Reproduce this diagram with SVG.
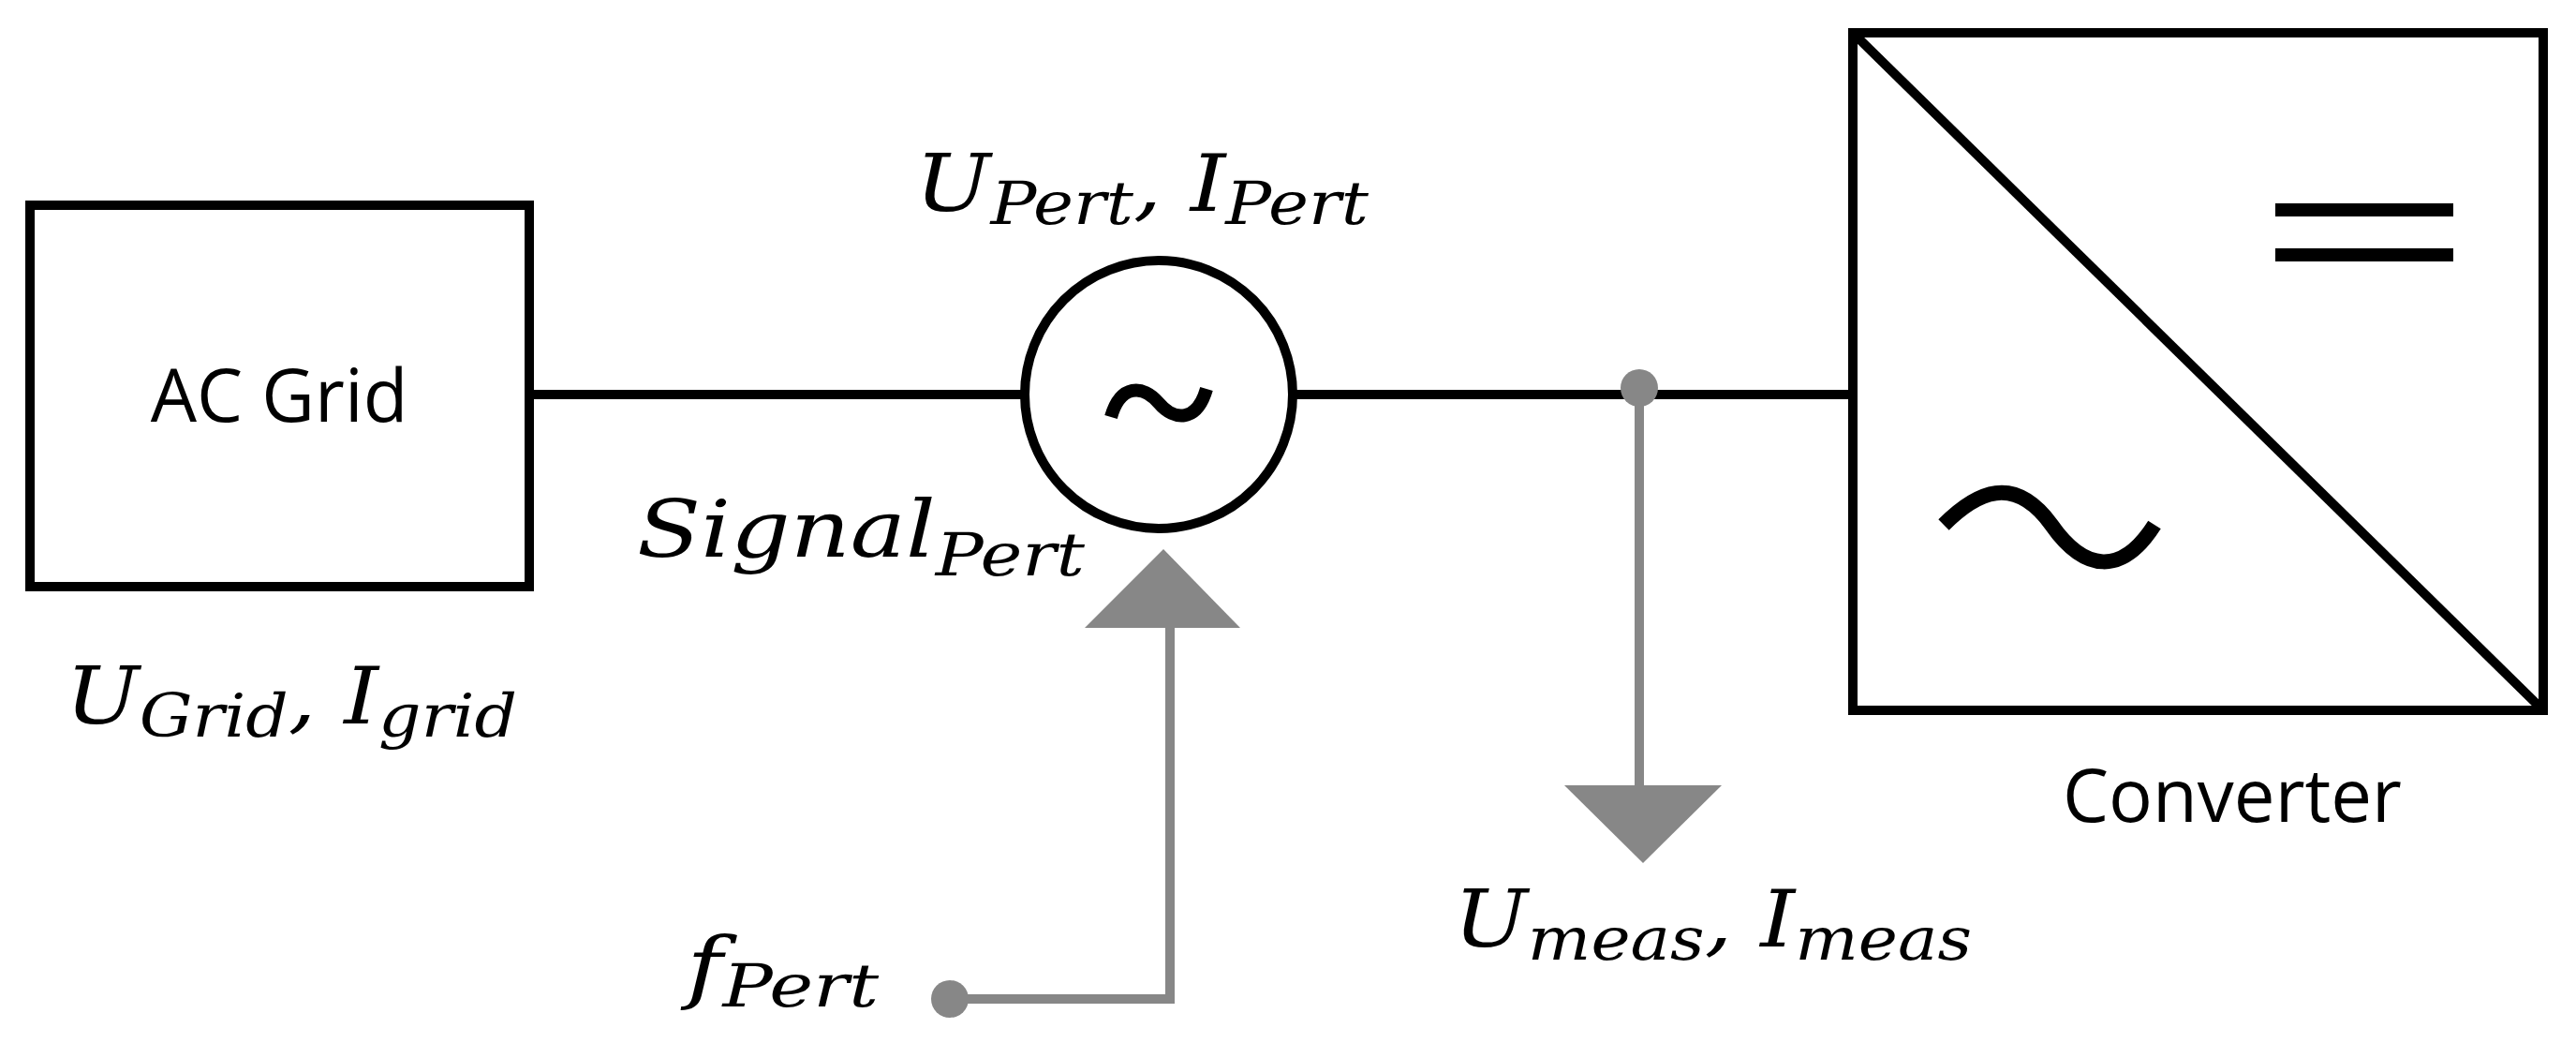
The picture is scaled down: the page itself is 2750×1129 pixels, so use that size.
<svg xmlns="http://www.w3.org/2000/svg" width="2750" height="1129" viewBox="0 0 2750 1129">
<style>
.blk{fill:none;stroke:#000;stroke-width:10}
.gry{fill:none;stroke:#878787;stroke-width:10}
.m{font-family:"DejaVu Serif","Liberation Serif",serif;font-style:italic;font-size:84px;fill:#000}
.s{font-size:64px}
.sans{font-family:"Open Sans","Liberation Sans",sans-serif;font-size:78px;fill:#000}
</style>
<rect width="2750" height="1129" fill="#fff"/>
<g id="connectors">
<line class="blk" x1="565" y1="421" x2="1093" y2="421"/>
<line class="blk" x1="1381" y1="421" x2="1978" y2="421"/>
<circle cx="1750" cy="414" r="20" fill="#878787"/>
<line class="gry" x1="1750" y1="414" x2="1750" y2="845"/>
<polygon points="1670,838 1838,838 1754,921" fill="#878787"/>
<circle cx="1014" cy="1066" r="20" fill="#878787"/>
<polyline class="gry" points="1014,1066 1249,1066 1249,665"/>
<polygon points="1158,670 1324,670 1242,586" fill="#878787"/>
</g>
<g id="acgrid">
<rect class="blk" x="32" y="219" width="533" height="407"/>
<text class="sans" x="298" y="450" text-anchor="middle">AC Grid</text>
<text class="m" x="70" y="772" textLength="482" lengthAdjust="spacingAndGlyphs">U<tspan class="s" dy="14">Grid</tspan><tspan dy="-14">, I</tspan><tspan class="s" dy="14">grid</tspan></text>
</g>
<g id="source">
<circle class="blk" cx="1237" cy="421" r="143"/>
<path d="M1186,445 C1196,410 1220,410 1237,430 C1254,450 1278,450 1288,415" fill="none" stroke="#000" stroke-width="14" stroke-linecap="butt"/>
<text class="m" x="977" y="225" textLength="484" lengthAdjust="spacingAndGlyphs">U<tspan class="s" dy="14">Pert</tspan><tspan dy="-14">, I</tspan><tspan class="s" dy="14">Pert</tspan></text>
<text class="m" x="680" y="594" textLength="478" lengthAdjust="spacingAndGlyphs">Signal<tspan class="s" dy="20">Pert</tspan></text>
<text class="m" x="733" y="1060" textLength="205" lengthAdjust="spacingAndGlyphs">f<tspan class="s" dy="14">Pert</tspan></text>
<text class="m" x="1552" y="1010" textLength="553" lengthAdjust="spacingAndGlyphs">U<tspan class="s" dy="14">meas</tspan><tspan dy="-14">, I</tspan><tspan class="s" dy="14">meas</tspan></text>
</g>
<g id="converter">
<rect class="blk" x="1978" y="35" width="737" height="723"/>
<line class="blk" x1="1978" y1="35" x2="2715" y2="758"/>
<line x1="2429" y1="224" x2="2619" y2="224" stroke="#000" stroke-width="14"/>
<line x1="2429" y1="272" x2="2619" y2="272" stroke="#000" stroke-width="14"/>
<path d="M2075,560 C2110,525 2150,505 2190,560 C2225,610 2265,615 2300,560" fill="none" stroke="#000" stroke-width="16"/>
<text class="sans" x="2383" y="877" text-anchor="middle">Converter</text>
</g>
</svg>
